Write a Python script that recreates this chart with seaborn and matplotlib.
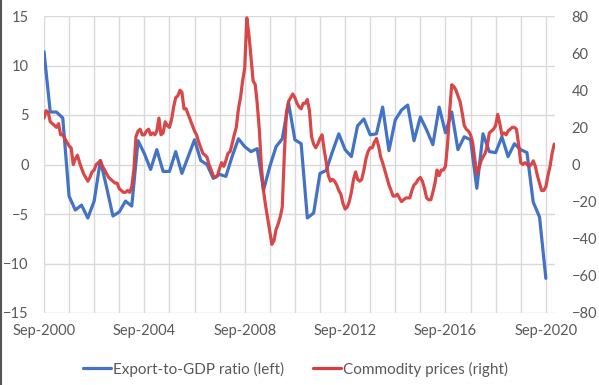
import pandas as pd
import numpy as np
import seaborn as sns
import matplotlib.pyplot as plt
from matplotlib.lines import Line2D

# Export-to-GDP ratio, quarterly from Sep-2000 to Sep-2020 (left axis)
export_gdp = [11.4, 5.3, 5.3, 4.7, -3.2, -4.6, -4.1, -5.4, -3.7, 0.4,
              -2.3, -5.2, -4.8, -3.7, -4.2, 2.4, 1.1, -0.5, 1.5, -0.7,
              -0.7, 1.3, -0.9, 0.8, 2.5, 0.4, 0.0, -1.4, -1.0, -1.2,
              0.8, 2.6, 1.8, 1.3, 1.6, -2.6, -0.2, 1.8, 2.6, 6.2,
              2.5, 2.1, -5.4, -4.9, -0.9, -0.6, 1.3, 3.1, 1.5, 0.8,
              3.9, 4.6, 3.0, 3.1, 5.8, 1.4, 4.5, 5.5, 6.0, 2.4,
              4.8, 3.5, 2.0, 5.8, 3.2, 5.3, 1.5, 2.8, 2.5, -2.4,
              3.1, 1.3, 1.2, 2.8, 0.8, 2.1, 1.5, 1.2, -3.8, -5.3,
              -11.5]

# Commodity prices, monthly from Sep-2000 to Jan-2021 (right axis)
commodity = [25, 29, 28, 23, 22, 21, 20, 22, 16, 16,
             14, 12, 10, 9, 0, 3, 5, 1, -2, -5,
             -7, -9, -7, -4, -3, 0, 1, 2, -1, -3,
             -5, -7, -8, -9, -10, -10, -13, -14, -15, -15,
             -14, -15, -12, -3, 15, 18, 19, 16, 16, 18,
             19, 16, 17, 16, 18, 25, 16, 17, 23, 21,
             20, 24, 31, 36, 37, 40, 39, 30, 30, 27,
             24, 21, 18, 16, 12, 9, 6, 5, 4, 0,
             -3, -6, -7, -6, -2, 1, -1, 2, 6, 7,
             11, 16, 20, 30, 36, 45, 52, 79, 70, 58,
             45, 43, 33, 19, -1, -14, -22, -29, -36, -43,
             -41, -35, -32, -28, -23, 6, 28, 34, 36, 38,
             36, 33, 31, 30, 33, 33, 35, 29, 15, 11,
             9, 11, 14, 16, 8, 1, -6, -9, -8, -9,
             -11, -14, -16, -21, -24, -23, -20, -15, -8, -4,
             -8, -9, -8, -3, 3, 7, 9, 9, 12, 14,
             10, 4, 1, -3, -7, -11, -14, -17, -17, -16,
             -18, -20, -19, -18, -18, -18, -14, -11, -10, -8,
             -7, -9, -13, -18, -19, -19, -15, -10, -3, -6,
             -3, -3, -1, 11, 29, 43, 42, 40, 37, 34,
             28, 21, 19, 18, 16, 12, 3, -5, -2, 2,
             4, 6, 10, 17, 18, 19, 21, 27, 22, 16,
             17, 16, 18, 19, 20, 20, 19, 11, 1, 0,
             1, 0, -1, 0, 2, -1, -6, -10, -14, -14,
             -12, -6, -1, 6, 11]

label_years = [2000, 2004, 2008, 2012, 2016, 2020]

df_q = pd.DataFrame({"date": pd.date_range("2000-09-01", periods=len(export_gdp), freq="3MS"),
                     "value": export_gdp})
df_m = pd.DataFrame({"date": pd.date_range("2000-09-01", periods=len(commodity), freq="MS"),
                     "value": commodity})

sns.set_theme(style="white")
plt.rcParams["font.family"] = ["Lato", "DejaVu Sans"]

blue = "#4472C4"
red = "#D63E3E"
grey = "#595959"
gridc = "#D9D9D9"

fig = plt.figure(figsize=(5.99, 3.85), dpi=100)
ax = fig.add_axes([44 / 599, 1 - 313 / 385, 511 / 599, 297 / 385])
ax2 = ax.twinx()

sns.lineplot(data=df_q, x="date", y="value", ax=ax, color=blue, linewidth=2.3)
sns.lineplot(data=df_m, x="date", y="value", ax=ax2, color=red, linewidth=2.3, alpha=0.95)

ax.set_ylim(-15, 15)
ax.set_yticks(np.arange(-15, 16, 5))
ax2.set_ylim(-80, 80)
ax2.set_yticks(np.arange(-80, 81, 20))
ax.set_xlim(pd.Timestamp("2000-09-01"), pd.Timestamp("2021-01-12"))

# yearly gridlines, labels every 4 years
ax.set_xticks([pd.Timestamp(f"{y}-09-01") for y in label_years])
ax.set_xticklabels([f"Sep-{y}" for y in label_years])
ax.set_xticks([pd.Timestamp(f"{y}-09-01") for y in range(2000, 2021)], minor=True)
ax.grid(True, which="both", axis="x", color=gridc, linewidth=1)
ax.grid(True, which="major", axis="y", color=gridc, linewidth=1)
ax.set_axisbelow(True)

for a in (ax, ax2):
    a.set_xlabel("")
    a.set_ylabel("")
    for s in a.spines.values():
        s.set_visible(False)
    a.tick_params(which="both", length=0, labelsize=10.5, labelcolor=grey)
ax.tick_params(axis="y", pad=11)
ax.tick_params(axis="x", pad=8)
ax2.tick_params(axis="y", pad=12)

handles = [Line2D([], [], color=blue, linewidth=2.3), Line2D([], [], color=red, linewidth=2.3)]
fig.legend(handles, ["Export-to-GDP ratio (left)", "Commodity prices (right)"],
           loc="center", bbox_to_anchor=(0.493, 1 - 369 / 385), ncol=2, frameon=False,
           fontsize=11, handlelength=1.85, handletextpad=0.1, columnspacing=1.9,
           labelcolor=grey)

# left border of the screenshot
fig.add_artist(Line2D([0.002, 0.002], [0, 1], color="#555555", linewidth=1.5))

fig.savefig("out.png", dpi=100)
